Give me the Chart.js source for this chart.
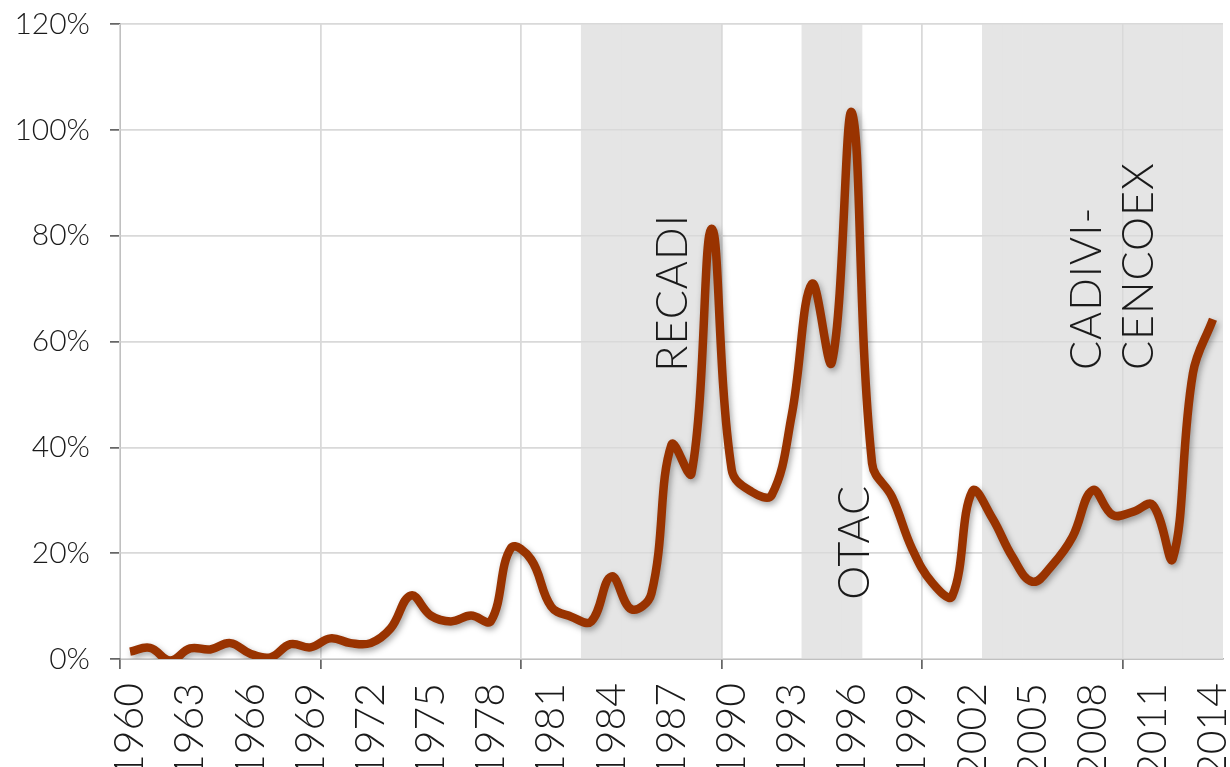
<!DOCTYPE html>
<html>
<head>
<meta charset="utf-8">
<script src="https://cdn.jsdelivr.net/npm/chart.js@4/dist/chart.umd.min.js"></script>
<style>
  html, body { margin: 0; padding: 0; background: #fff; overflow: hidden; }
</style>
</head>
<body>
<canvas id="chart" width="1230" height="767"></canvas>
<script>

        // years 1960..2014
        const years = [];
        for (let y = 1960; y <= 2014; y++) years.push(String(y));

        // values, in %
        const rates = [
            1.4, 2.1, -0.3, 2.0, 1.8, 3.0, 1.0, 0.3, 2.8, 2.2,
            3.9, 3.0, 3.0, 5.8, 12.0, 8.2, 7.1, 8.2, 7.2, 21.0,
            18.8, 9.9, 8.0, 7.1, 15.6, 9.4, 12.4, 40.5, 35.1, 81.3,
            35.8, 31.6, 31.0, 46.2, 70.9, 56.1, 103.2, 37.0, 30.6, 20.8,
            14.4, 11.9, 31.7, 26.6, 19.3, 14.6, 17.8, 23.1, 31.9, 27.2,
            27.8, 29.1, 19.0, 54.0, 64.2
        ];

        // exchange control periods (first year, last year)
        const controlPeriods = [[1983, 1989], [1994, 1996], [2003, 2014]];

        const yTicks = [0, 20, 40, 60, 80, 100, 120];

        // vertical labels: text, year position, bottom value in %
        const notes = [
            { text: 'RECADI', year: 1987.08, value: 54.3 },
            { text: 'OTAC', year: 1996.15, value: 11.2 },
            { text: 'CADIVI-', year: 2007.73, value: 54.6 },
            { text: 'CENCOEX', year: 2010.3, value: 54.6 }
        ];

        const shade = years.map(y => {
            const yr = +y;
            return controlPeriods.some(p => yr >= p[0] && yr <= p[1]) ? 120 : null;
        });

        const FONT = 'Lato, "Open Sans", sans-serif';

        // grid shows through the shaded periods, line gets a soft shadow
        const layerPlugin = {
            id: 'layers',
            afterDatasetDraw(chart, args) {
                if (args.index !== 0) return;
                chart.scales.x.drawGrid(chart.chartArea);
                chart.scales.y.drawGrid(chart.chartArea);
            },
            beforeDatasetDraw(chart, args) {
                if (args.index !== 1) return;
                const ctx = chart.ctx;
                ctx.save();
                ctx.shadowColor = 'rgba(0,0,0,0.35)';
                ctx.shadowBlur = 6;
                ctx.shadowOffsetX = 2;
                ctx.shadowOffsetY = 3;
            }
        };

        const shadowEnd = {
            id: 'shadowEnd',
            afterDatasetDraw(chart, args) {
                if (args.index !== 1) return;
                chart.ctx.restore();
            }
        };

        const notesPlugin = {
            id: 'notes',
            afterDatasetsDraw(chart) {
                const ctx = chart.ctx;
                const xs = chart.scales.x, ys = chart.scales.y;
                const x0 = xs.getPixelForValue(0);
                const step = xs.getPixelForValue(1) - x0;
                ctx.save();
                ctx.fillStyle = '#1a1a1a';
                ctx.font = '300 43px ' + FONT;
                ctx.letterSpacing = '1px';
                ctx.textAlign = 'left';
                ctx.textBaseline = 'middle';
                notes.forEach(n => {
                    const px = x0 + (n.year - 1960) * step;
                    const py = ys.getPixelForValue(n.value);
                    ctx.save();
                    ctx.translate(px, py);
                    ctx.rotate(-Math.PI / 2);
                    ctx.fillText(n.text, 0, 0);
                    ctx.restore();
                });
                ctx.restore();
            }
        };

        const ctx = document.getElementById('chart').getContext('2d');
        const myChart = new Chart(ctx, {
            data: {
                labels: years,
                datasets: [{
                    type: 'bar',
                    data: shade,
                    backgroundColor: '#e5e5e5',
                    borderWidth: 0,
                    barPercentage: 1,
                    categoryPercentage: 1,
                    order: 2
                }, {
                    type: 'line',
                    data: rates,
                    borderColor: '#993300',
                    borderWidth: 8.5,
                    pointRadius: 0,
                    tension: 0.4,
                    fill: false,
                    clip: 0,
                    order: 1
                }]
            },
            options: {
                responsive: false,
                animation: false,
                layout: { padding: { top: 24, right: 7, left: 0, bottom: 0 } },
                plugins: {
                    legend: { display: false },
                    tooltip: { enabled: false }
                },
                scales: {
                    x: {
                        offset: true,
                        grid: {
                            offset: true,
                            lineWidth: 1.5,
                            tickLength: 10,
                            color: c => (c.index % 10 === 0 && c.index < years.length) ? '#d9d9d9' : 'rgba(0,0,0,0)',
                            tickColor: c => (c.index % 10 === 0 && c.index < years.length) ? '#666' : 'rgba(0,0,0,0)'
                        },
                        border: { color: '#666', width: 1.5 },
                        ticks: {
                            autoSkip: false,
                            minRotation: 90,
                            maxRotation: 90,
                            padding: 14,
                            color: '#1a1a1a',
                            font: { family: FONT, size: 41, weight: 300 },
                            callback: function(value, index) {
                                return index % 3 === 0 ? years[index] : '';
                            }
                        },
                        afterFit: scale => {
                            scale.height = 108;
                            scale.paddingLeft = 0;
                            scale.paddingRight = 0;
                        }
                    },
                    y: {
                        min: 0,
                        max: 120,
                        grid: {
                            lineWidth: 1.5,
                            tickLength: 10,
                            color: '#d9d9d9',
                            tickColor: '#666'
                        },
                        border: { color: '#666', width: 1.5 },
                        ticks: {
                            stepSize: 20,
                            padding: 20,
                            color: '#1a1a1a',
                            font: { family: FONT, size: 30, weight: 300 },
                            callback: function(value) {
                                return yTicks.includes(value) ? value + '%' : '';
                            }
                        },
                        afterFit: scale => {
                            scale.width = 120;
                            scale.paddingTop = 0;
                            scale.paddingBottom = 0;
                        }
                    }
                }
            },
            plugins: [layerPlugin, shadowEnd, notesPlugin]
        });
</script>
</body>
</html>
